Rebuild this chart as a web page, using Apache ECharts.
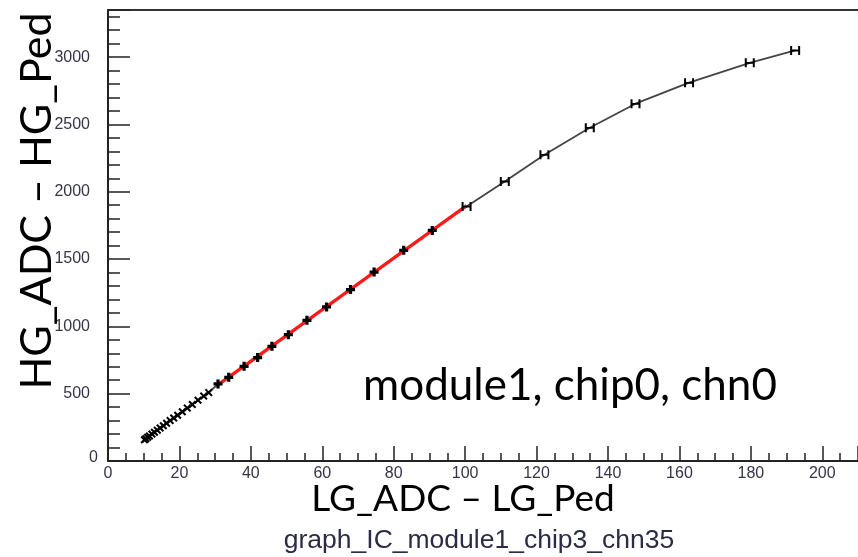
<!DOCTYPE html>
<html>
<head>
<meta charset="utf-8">
<script src="https://cdn.jsdelivr.net/npm/echarts@6/dist/echarts.min.js"></script>
<style>
html,body{margin:0;padding:0;background:#fff;}
#chart{width:858px;height:557px;}
</style>
</head>
<body>
<div id="chart"></div>
<script>
// Measured points: LG_ADC - LG_Ped (x) vs HG_ADC - HG_Ped (y)
var lgValues = [10.2, 10.6, 11.1, 11.6, 12.3, 13.0, 13.8, 14.6, 15.5, 16.4, 17.4, 18.4, 19.5, 20.8, 22.2, 23.6, 25.2, 26.8, 28.2, 30.8, 33.8, 38.1, 41.9, 45.9, 50.5, 55.7, 61.2, 67.9, 74.5, 82.8, 90.8, 100.4, 111.1, 122.2, 134.9, 147.7, 162.7, 179.7, 192.4];
var hgValues = [158, 166, 176, 186, 200, 214, 229, 245, 262, 280, 300, 319, 340, 366, 393, 420, 452, 482, 508, 572, 622, 703, 768, 852, 938, 1045, 1144, 1273, 1403, 1565, 1713, 1891, 2077, 2275, 2475, 2654, 2810, 2958, 3050];
// Linear fit line end points (red)
var fitLG = [30.6, 100.4];
var fitHG = [562, 1897];
// Axis ticks
var xTickLabels = [0, 20, 40, 60, 80, 100, 120, 140, 160, 180, 200];
var yTickLabels = [0, 500, 1000, 1500, 2000, 2500, 3000];
// Texts
var xTitle = 'LG_ADC \u2013 LG_Ped';
var yTitle = 'HG_ADC \u2013 HG_Ped';
var annotation = 'module1, chip0, chn0';
var graphName = 'graph_IC_module1_chip3_chn35';

var pts = lgValues.map(function (x, i) { return [x, hgValues[i]]; });
var fitPts = fitLG.map(function (x, i) { return [x, fitHG[i]]; });

var symX = 'path://M0,1.8L1.8,0L5,3.2L8.2,0L10,1.8L6.8,5L10,8.2L8.2,10L5,6.8L1.8,10L0,8.2L3.2,5Z';
var symPlus = 'path://M3.2,0H6.8V3.2H10V6.8H6.8V10H3.2V6.8H0V3.2H3.2Z';
var symH = 'path://M0,0H2V3.3H8V0H10V8H8V4.9H2V8H0Z';

var labelColor = '#353548';
var labelFont = '"Liberation Sans", Arial, sans-serif';
var fontTitle = 'Lato, "Open Sans", sans-serif';

var chart = echarts.init(document.getElementById('chart'), null, {renderer: 'canvas'});
chart.setOption({
  animation: false,
  backgroundColor: '#ffffff',
  grid: {left: 108, top: 10, right: 0, bottom: 96, show: false},
  xAxis: [{
    type: 'value', min: 0, max: 210, interval: 20,
    axisLine: {show: true, onZero: false, lineStyle: {color: '#222', width: 2}},
    axisTick: {show: true, inside: true, length: 15, lineStyle: {color: '#222', width: 1.5}},
    minorTick: {show: true, splitNumber: 4, length: 8, lineStyle: {color: '#222', width: 1.5}},
    splitLine: {show: false},
    axisLabel: {
      margin: 5, fontSize: 16, fontFamily: labelFont, color: labelColor,
      showMaxLabel: false,
      formatter: function (v) { return xTickLabels.indexOf(v) >= 0 ? String(v) : ''; }
    }
  }, {
    type: 'value', position: 'top', min: 0, max: 210,
    axisLine: {show: true, onZero: false, lineStyle: {color: '#333', width: 2}},
    axisTick: {show: false}, axisLabel: {show: false}, splitLine: {show: false}
  }],
  yAxis: {
    type: 'value', min: 0, max: 3350, interval: 500,
    axisLine: {show: true, onZero: false, lineStyle: {color: '#222', width: 2}},
    axisTick: {show: true, inside: true, length: 22, lineStyle: {color: '#222', width: 1.5}},
    minorTick: {show: true, splitNumber: 5, length: 12, lineStyle: {color: '#222', width: 1.5}},
    splitLine: {show: false},
    axisLabel: {
      margin: 10, fontSize: 16, fontFamily: labelFont, color: labelColor,
      showMaxLabel: false,
      formatter: function (v) {
        if (yTickLabels.indexOf(v) < 0) return '';
        return v === 0 ? '{z|0}' : '{n|' + v + '}';
      },
      rich: {
        z: {fontSize: 16, color: labelColor, fontFamily: labelFont, padding: [0, 0, 6, 0]},
        n: {fontSize: 16, color: labelColor, fontFamily: labelFont, padding: [0, 8, 0, 0]}
      }
    }
  },
  series: [
    {
      type: 'line', data: pts, symbol: 'none', z: 2,
      lineStyle: {color: '#444', width: 1.8}
    },
    {
      type: 'line', data: fitPts, symbol: 'none', z: 3,
      lineStyle: {color: '#ff1a1a', width: 3.2}
    },
    {
      type: 'scatter', data: pts, z: 4,
      symbol: function (v) { return v[0] < 30 ? symX : (v[0] < 95 ? symPlus : symH); },
      symbolSize: function (v) { return v[0] < 30 ? 8 : (v[0] < 95 ? 9 : [10, 9]); },
      itemStyle: {color: '#000', opacity: 1}
    }
  ],
  graphic: [
    {type: 'text', x: 37, y: 201, rotation: Math.PI / 2, z: 10,
     style: {text: yTitle, font: '43px ' + fontTitle, fill: '#000', textAlign: 'center', textVerticalAlign: 'middle'}},
    {type: 'text', x: 463, y: 499, z: 10,
     style: {text: xTitle, font: '37px ' + fontTitle, fill: '#000', textAlign: 'center', textVerticalAlign: 'middle'}},
    {type: 'text', x: 570, y: 386, z: 10,
     style: {text: annotation, font: '44px ' + fontTitle, fill: '#000', textAlign: 'center', textVerticalAlign: 'middle'}},
    {type: 'text', x: 479, y: 541, z: 10,
     style: {text: graphName, font: '26.5px ' + labelFont, fill: '#2b2b45', textAlign: 'center', textVerticalAlign: 'middle'}}
  ]
});
</script>
</body>
</html>
